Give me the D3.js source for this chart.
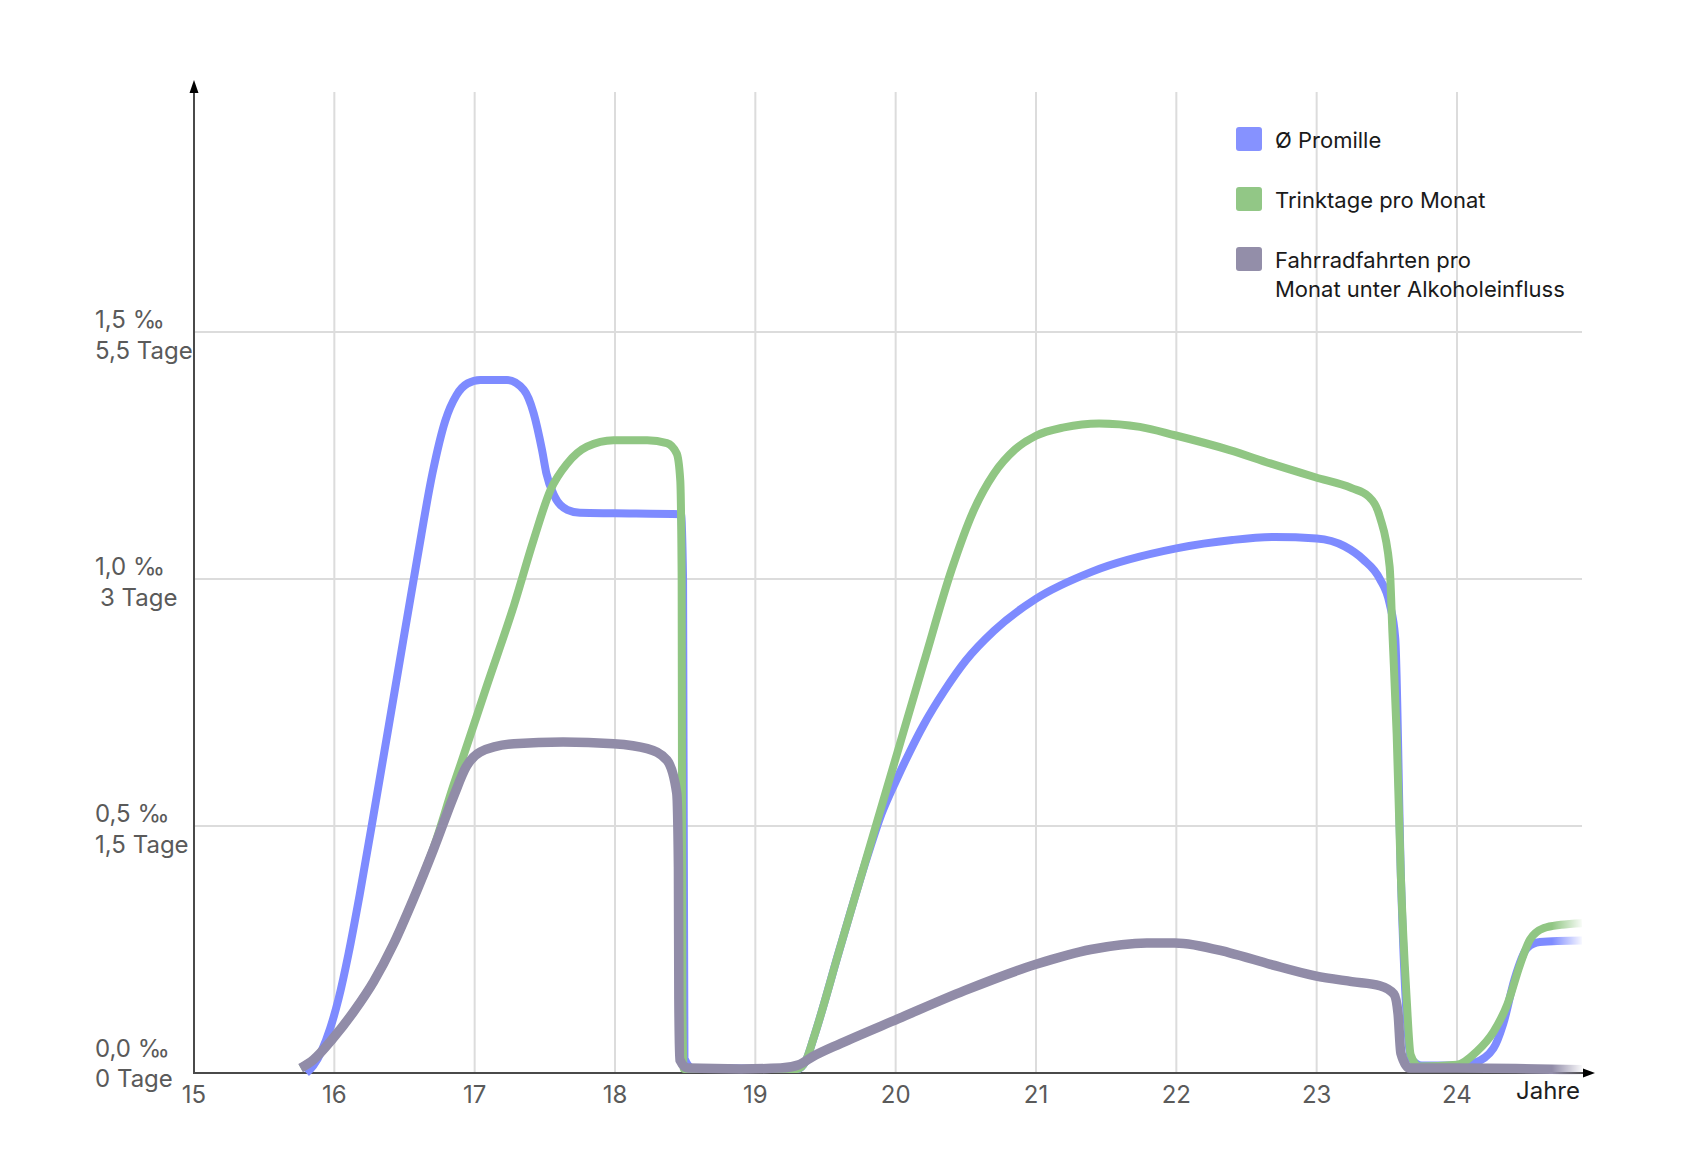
<!DOCTYPE html>
<html>
<head>
<meta charset="utf-8">
<script src="https://cdn.jsdelivr.net/npm/d3@7"></script>
<style>
  body { margin: 0; background: #fff; }
  text { font-family: Inter, "Noto Sans", sans-serif; }
</style>
</head>
<body>
<svg id="chart" width="1697" height="1155"></svg>
<script>
/* x ticks (age in years) */
var years = [15, 16, 17, 18, 19, 20, 21, 22, 23, 24];

/* y ticks: promille value and the matching label pair */
var yTicks = [0, 0.5, 1.0, 1.5];
var promilleLabels = ["0,0 \u2030", "0,5 \u2030", "1,0 \u2030", "1,5 \u2030"];
var tageLabels = ["0 Tage", "1,5 Tage", "3 Tage", "5,5 Tage"];
/* the day axis is not linear: these day counts sit on the promille ticks */
var tageTicks = [0, 1.5, 3, 5.5];

var seriesNames = ["\u00d8 Promille", "Trinktage pro Monat", "Fahrradfahrten pro|Monat unter Alkoholeinfluss"];

/* average promille, [age, promille] */
var promille = [
  [15.80, 0.0], [15.85, 0.015], [15.91, 0.045], [15.97, 0.09], [16.03, 0.15],
  [16.10, 0.24], [16.18, 0.36], [16.29, 0.54], [16.44, 0.79], [16.59, 1.04],
  [16.70, 1.215], [16.79, 1.32], [16.87, 1.372], [16.95, 1.396], [17.04, 1.403],
  [17.23, 1.403], [17.35, 1.383], [17.42, 1.336], [17.48, 1.261], [17.51, 1.215],
  [17.57, 1.167], [17.66, 1.14], [17.75, 1.134], [18.00, 1.133], [18.47, 1.131],
  [18.485, 1.0], [18.495, 0.03], [18.55, 0.01], [19.30, 0.008], [19.36, 0.025],
  [19.42, 0.075], [19.60, 0.25], [19.80, 0.44], [19.90, 0.525], [20.00, 0.59],
  [20.10, 0.65], [20.20, 0.705], [20.35, 0.775], [20.50, 0.835], [20.70, 0.895],
  [21.00, 0.96], [21.40, 1.015], [22.00, 1.062], [22.40, 1.079], [22.70, 1.085],
  [23.00, 1.082], [23.20, 1.066], [23.33, 1.04], [23.45, 1.0], [23.52, 0.95],
  [23.56, 0.88], [23.60, 0.40], [23.64, 0.12], [23.67, 0.03], [23.75, 0.015],
  [24.00, 0.015], [24.12, 0.02], [24.26, 0.05], [24.33, 0.10], [24.41, 0.19],
  [24.50, 0.253], [24.59, 0.265], [24.89, 0.268]
];

/* drinking days per month, [age, days] */
var trinktage = [
  [15.76, 0.03], [15.85, 0.08], [15.99, 0.21], [16.14, 0.375], [16.28, 0.555],
  [16.42, 0.78], [16.56, 1.05], [16.71, 1.375], [16.85, 1.75], [16.91, 1.90],
  [17.09, 2.36], [17.28, 2.84], [17.42, 3.395], [17.54, 3.90], [17.66, 4.17],
  [17.80, 4.34], [17.99, 4.405], [18.23, 4.405], [18.37, 4.375], [18.44, 4.27],
  [18.465, 4.0], [18.475, 3.0], [18.48, 0.4], [18.49, 0.025], [18.55, 0.025],
  [19.30, 0.025], [19.36, 0.075], [19.42, 0.225], [19.60, 0.75], [19.90, 1.62],
  [20.20, 2.49], [20.40, 3.10], [20.55, 3.675], [20.70, 4.065], [20.85, 4.31],
  [21.00, 4.45], [21.20, 4.535], [21.45, 4.575], [21.74, 4.54], [21.99, 4.455],
  [22.38, 4.305], [22.67, 4.17], [22.99, 4.03], [23.25, 3.92], [23.37, 3.835],
  [23.45, 3.63], [23.52, 3.125], [23.54, 2.67], [23.57, 2.06], [23.60, 1.19],
  [23.64, 0.47], [23.67, 0.11], [23.73, 0.04], [24.00, 0.05], [24.14, 0.13],
  [24.26, 0.25], [24.36, 0.42], [24.45, 0.66], [24.52, 0.81], [24.62, 0.88],
  [24.74, 0.90], [24.89, 0.91]
];

/* bike rides per month under the influence, [age, count] */
var fahrten = [
  [15.76, 0.03], [15.85, 0.08], [15.99, 0.21], [16.14, 0.375], [16.28, 0.555],
  [16.42, 0.78], [16.56, 1.05], [16.71, 1.365], [16.85, 1.68], [16.94, 1.86],
  [17.04, 1.95], [17.28, 2.0], [17.63, 2.01], [17.99, 2.0], [18.23, 1.97],
  [18.37, 1.90], [18.44, 1.70], [18.452, 1.25], [18.455, 0.45], [18.462, 0.08],
  [18.52, 0.03], [18.90, 0.025], [19.18, 0.03], [19.31, 0.05], [19.41, 0.10],
  [19.61, 0.18], [20.02, 0.33], [20.49, 0.50], [21.00, 0.66], [21.39, 0.75],
  [21.79, 0.79], [21.99, 0.79], [22.38, 0.73], [22.67, 0.66], [22.99, 0.59],
  [23.25, 0.555], [23.45, 0.53], [23.55, 0.48], [23.58, 0.36], [23.60, 0.12],
  [23.66, 0.03], [24.00, 0.03], [24.89, 0.02]
];

var colors = ["#7e8bff", "#90c683", "#918ca8"];
var swatchColors = ["#8692ff", "#92c786", "#938ea9"];

var svg = d3.select("#chart");
var plotTop = 92, plotRight = 1582;

var x = d3.scaleLinear().domain([15, 24]).range([194, 1457]);
var y = d3.scaleLinear().domain([0, 1.5]).range([1073, 332]);
/* piecewise scale for the day based series, same pixel positions as the promille ticks */
var yDays = d3.scaleLinear().domain(tageTicks).range(yTicks.map(y));

/* fade at the right end of the curves */
var defs = svg.append("defs");
var grad = defs.append("linearGradient").attr("id", "fade")
  .attr("gradientUnits", "userSpaceOnUse")
  .attr("x1", 1552).attr("x2", 1584).attr("y1", 0).attr("y2", 0);
grad.append("stop").attr("offset", 0).attr("stop-color", "#fff");
grad.append("stop").attr("offset", 1).attr("stop-color", "#000");
defs.append("mask").attr("id", "fadeMask")
  .attr("maskUnits", "userSpaceOnUse")
  .attr("x", 0).attr("y", 0).attr("width", 1697).attr("height", 1155)
  .append("rect").attr("width", 1697).attr("height", 1155).attr("fill", "url(#fade)");

/* grid */
var grid = svg.append("g");
grid.selectAll("line.v").data(years.slice(1)).enter().append("line")
  .attr("x1", x).attr("x2", x)
  .attr("y1", plotTop).attr("y2", y(0))
  .attr("stroke", "#dcdcdc").attr("stroke-width", 2);
grid.selectAll("line.h").data(yTicks.slice(1)).enter().append("line")
  .attr("x1", x(15)).attr("x2", plotRight)
  .attr("y1", y).attr("y2", y)
  .attr("stroke", "#dcdcdc").attr("stroke-width", 2);

/* axes with arrow heads */
var axisColor = "#4a4a4a";
svg.append("line").attr("x1", x(15)).attr("x2", plotRight + 2)
  .attr("y1", y(0)).attr("y2", y(0)).attr("stroke", axisColor).attr("stroke-width", 2);
svg.append("line").attr("x1", x(15)).attr("x2", x(15))
  .attr("y1", y(0) + 1).attr("y2", 90).attr("stroke", axisColor).attr("stroke-width", 2);
svg.append("path")
  .attr("d", "M" + (x(15) - 4.5) + "," + 93 + " L" + x(15) + "," + 80 + " L" + (x(15) + 4.5) + "," + 93 + " Z")
  .attr("fill", "#000");
svg.append("path")
  .attr("d", "M" + (plotRight + 1) + "," + (y(0) - 4.5) + " L" + (plotRight + 13) + "," + y(0) + " L" + (plotRight + 1) + "," + (y(0) + 4.5) + " Z")
  .attr("fill", "#000");

/* x tick labels */
svg.selectAll("text.xt").data(years).enter().append("text")
  .attr("x", x).attr("y", 1103)
  .attr("text-anchor", "middle")
  .attr("font-size", 24).attr("fill", "#5a5a5a")
  .text(function(d) { return d; });
svg.append("text").attr("x", 1580).attr("y", 1099)
  .attr("text-anchor", "end").attr("font-size", 24).attr("fill", "#1e1e1e")
  .text("Jahre");

/* y tick labels, two lines each */
var yl = svg.selectAll("g.yl").data(yTicks).enter().append("g");
yl.append("text")
  .attr("x", 95)
  .attr("y", function(d) { return y(d) - (d === 0 ? 16 : 4); })
  .attr("font-size", 24).attr("fill", "#5a5a5a")
  .text(function(d, i) { return promilleLabels[i]; });
yl.append("text")
  .attr("x", function(d) { return d === 1.0 ? 100 : 95; })
  .attr("y", function(d) { return y(d) + (d === 0 ? 14 : 27); })
  .attr("font-size", 24).attr("fill", "#5a5a5a")
  .text(function(d, i) { return tageLabels[i]; });

/* curves */
var linePromille = d3.line()
  .x(function(d) { return x(d[0]); })
  .y(function(d) { return y(d[1]); })
  .curve(d3.curveMonotoneX);
var lineDays = d3.line()
  .x(function(d) { return x(d[0]); })
  .y(function(d) { return yDays(d[1]); })
  .curve(d3.curveMonotoneX);

var curves = svg.append("g").attr("mask", "url(#fadeMask)")
  .attr("fill", "none").attr("stroke-linejoin", "round");
curves.append("path").attr("d", linePromille(promille))
  .attr("stroke", colors[0]).attr("stroke-width", 8);
curves.append("path").attr("d", lineDays(trinktage))
  .attr("stroke", colors[1]).attr("stroke-width", 8);
curves.append("path").attr("d", lineDays(fahrten))
  .attr("stroke", colors[2]).attr("stroke-width", 9.5);

/* legend */
var legend = svg.selectAll("g.lg").data(seriesNames).enter().append("g")
  .attr("transform", function(d, i) { return "translate(1236," + (127 + i * 60) + ")"; });
legend.append("rect")
  .attr("width", 26).attr("height", 24).attr("rx", 3)
  .attr("fill", function(d, i) { return swatchColors[i]; });
legend.each(function(d) {
  var t = d3.select(this).append("text")
    .attr("font-size", 22).attr("fill", "#1a1a1a");
  d.split("|").forEach(function(part, k) {
    t.append("tspan").attr("x", 39).attr("y", 21 + k * 29).text(part);
  });
});
</script>
</body>
</html>
